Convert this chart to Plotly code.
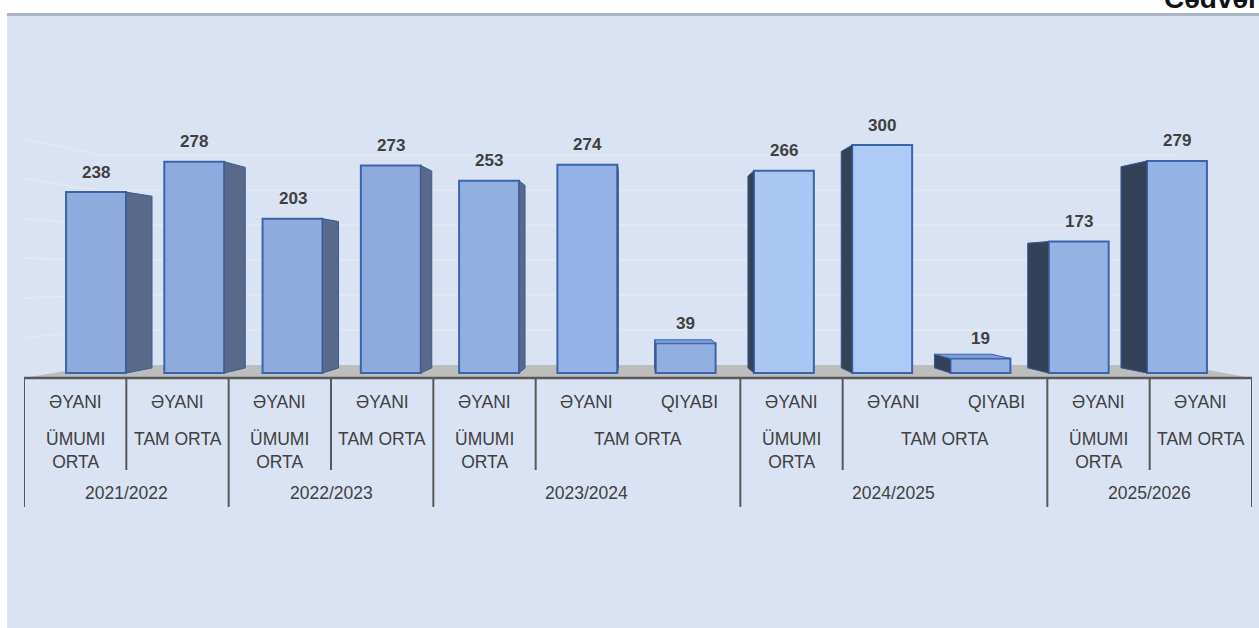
import plotly.graph_objects as go

# ---------------- data ----------------
values = [238, 278, 203, 273, 253, 274, 39, 266, 300, 19, 173, 279]
level1 = ["ƏYANI", "ƏYANI", "ƏYANI", "ƏYANI", "ƏYANI", "ƏYANI", "QIYABI",
          "ƏYANI", "ƏYANI", "QIYABI", "ƏYANI", "ƏYANI"]
level2 = ["ÜMUMI ORTA", "TAM ORTA", "ÜMUMI ORTA", "TAM ORTA", "ÜMUMI ORTA",
          "TAM ORTA", "TAM ORTA", "ÜMUMI ORTA", "TAM ORTA", "TAM ORTA",
          "ÜMUMI ORTA", "TAM ORTA"]
level3 = ["2021/2022", "2021/2022", "2022/2023", "2022/2023", "2023/2024",
          "2023/2024", "2023/2024", "2024/2025", "2024/2025", "2024/2025",
          "2025/2026", "2025/2026"]
title_text = "Cədvəl"

# ---------------- style ----------------
W, H = 1259, 628
ML, MR, MT, MB = 24, 7, 14, 0
PLOT_W = W - ML - MR
PLOT_H = H - MT - MB
PX_PER_UNIT = 0.76
BASE_PX = 373
BG = "#DAE3F3"
FONT = "Liberation Sans, Arial, sans-serif"
TXT = "#404040"
LBL_SIZE = 17.5
front_colors = ["#8FAADC", "#8FAADC", "#8FAADC", "#8FAADC", "#92AFE1", "#95B3E6",
                "#92AFE1", "#AAC7F3", "#AECBF7", "#93B0E2", "#95B2E4", "#95B2E4"]
EDGE = "#3C64AA"
SIDE_L = "#58698A"
SIDE_R = "#344259"
TOP_C = "#7E9ED6"
BAR_W = 0.61
PERSP_F = 0.051


def val(py):
    return (BASE_PX - py) / PX_PER_UNIT


def xpx(px):  # pixel -> label axis unit
    return (px - ML) / (PLOT_W / 12.0) - 0.5


def paper_x(px):
    return (px - ML) / PLOT_W


def paper_y(py):
    return (H - MB - py) / PLOT_H


n = len(values)
yr = [val(H - MB), val(MT)]
x2_unit = 98.27
x2_lo = -(96 - ML) / x2_unit
x2_hi = x2_lo + PLOT_W / x2_unit
XV = (n - 1) / 2.0
YV = val(273)

fig = go.Figure()

# side and top faces (perspective from vanishing point)
h = BAR_W / 2
for i, v in enumerate(values):
    c = i
    if c + h < XV:
        xe, col = c + h, SIDE_L
    elif c - h > XV:
        xe, col = c - h, SIDE_R
    else:
        xe = None
    if xe is not None:
        xb = xe + (XV - xe) * PERSP_F
        fig.add_trace(go.Scatter(
            x=[xe, xe, xb, xb, xe],
            y=[0, v, v + (YV - v) * PERSP_F, 0 + (YV - 0) * PERSP_F, 0],
            mode="lines", fill="toself", fillcolor=col,
            line=dict(color="#3A5A96", width=1),
            xaxis="x2", yaxis="y", hoverinfo="skip", showlegend=False))
    if v < YV:
        xl, xr = c - h, c + h
        vb = v + (YV - v) * PERSP_F
        fig.add_trace(go.Scatter(
            x=[xl, xr, xr + (XV - xr) * PERSP_F, xl + (XV - xl) * PERSP_F, xl],
            y=[v, v, vb, vb, v],
            mode="lines", fill="toself", fillcolor=TOP_C,
            line=dict(color=EDGE, width=1),
            xaxis="x2", yaxis="y", hoverinfo="skip", showlegend=False))

fig.add_trace(go.Bar(
    x=list(range(n)), y=values, width=BAR_W,
    marker=dict(color=front_colors, line=dict(color=EDGE, width=2)),
    xaxis="x2", yaxis="y", hoverinfo="skip", showlegend=False))

annotations = []
for i, v in enumerate(values):
    annotations.append(dict(
        x=i, y=v, xref="x2", yref="y", text=str(v), showarrow=False,
        yanchor="middle", yshift=20,
        font=dict(family=FONT, size=17, color=TXT, weight="bold")))

# category labels
for i, t in enumerate(level1):
    annotations.append(dict(x=i, y=val(402), xref="x", yref="y", text=t,
                            showarrow=False, yanchor="middle",
                            font=dict(family=FONT, size=LBL_SIZE, color=TXT)))


def runs(keys):
    out = []
    s = 0
    for i in range(1, len(keys) + 1):
        if i == len(keys) or keys[i] != keys[s]:
            out.append((s, i - 1, keys[s]))
            s = i
    return out


l2_runs = runs(list(zip(level3, level2)))
l3_runs = runs(level3)
for s, e, (yrs, t) in l2_runs:
    txt = t.replace(" ", "<br>") if (e == s and len(t) > 8) else t
    annotations.append(dict(x=(s + e) / 2, y=val(427), xref="x", yref="y", text=txt,
                            showarrow=False, yanchor="top",
                            font=dict(family=FONT, size=LBL_SIZE, color=TXT)))
for s, e, t in l3_runs:
    annotations.append(dict(x=(s + e) / 2, y=val(493), xref="x", yref="y", text=t,
                            showarrow=False, yanchor="middle",
                            font=dict(family=FONT, size=LBL_SIZE, color=TXT)))

annotations.append(dict(x=paper_x(1258), y=paper_y(16), xref="paper", yref="paper",
                        text=title_text, showarrow=False, xanchor="right",
                        yanchor="bottom",
                        font=dict(family=FONT, size=28, color="#111111", weight="bold")))

shapes = []
# background panel and top border
shapes.append(dict(type="rect", xref="paper", yref="paper",
                   x0=paper_x(7), x1=paper_x(W), y0=paper_y(H), y1=paper_y(14),
                   fillcolor=BG, line=dict(width=0), layer="below"))
shapes.append(dict(type="line", xref="paper", yref="paper",
                   x0=paper_x(7), x1=paper_x(W), y0=paper_y(14.5), y1=paper_y(14.5),
                   line=dict(color="#A9B3C7", width=3), layer="above"))

# back wall gridlines with left wall segments
xb_l, xb_r = xpx(100), xpx(1180)
for g in range(50, 301, 50):
    vb = g + (YV - g) * 0.08
    vf = YV + (vb - YV) * 1.14
    shapes.append(dict(type="line", xref="x", yref="y", x0=xb_l, x1=xb_r, y0=vb, y1=vb,
                       line=dict(color="#E5E8EF", width=1.6), layer="below"))
    shapes.append(dict(type="line", xref="x", yref="y", x0=-0.5, x1=xb_l, y0=vf, y1=vb,
                       line=dict(color="#E5E8EF", width=1.6), layer="below"))

# floor
shapes.append(dict(type="path", xref="x", yref="y", layer="below",
                   path=f"M {-0.5},{val(378)} L {xb_l},{val(365)} L {xb_r},{val(365)} "
                        f"L {11.5},{val(378)} Z",
                   fillcolor="#BDBDBD", line=dict(width=0)))
# axis line
shapes.append(dict(type="line", xref="x", yref="y", x0=-0.5, x1=n - 0.5,
                   y0=val(378), y1=val(378), line=dict(color="#595959", width=2.5),
                   layer="above"))
# separators
l3_bounds = {-0.5} | {e + 0.5 for s, e, t in l3_runs}
l2_bounds = {e + 0.5 for s, e, t in l2_runs} - l3_bounds
for b in l3_bounds:
    shapes.append(dict(type="line", xref="x", yref="y", x0=b, x1=b,
                       y0=val(378), y1=val(507), line=dict(color="#595959", width=2),
                       layer="above"))
for b in l2_bounds:
    shapes.append(dict(type="line", xref="x", yref="y", x0=b, x1=b,
                       y0=val(378), y1=val(470), line=dict(color="#595959", width=2),
                       layer="above"))

fig.update_layout(
    width=W, height=H,
    margin=dict(l=ML, r=MR, t=MT, b=MB, pad=0),
    paper_bgcolor="white", plot_bgcolor=BG,
    xaxis=dict(range=[-0.5, n - 0.5], visible=False, fixedrange=True),
    xaxis2=dict(range=[x2_lo, x2_hi], overlaying="x", anchor="y", visible=False,
                fixedrange=True),
    yaxis=dict(range=yr, visible=False, fixedrange=True),
    annotations=annotations, shapes=shapes, showlegend=False,
    bargap=0,
)
fig.write_html("out.html",
               config={"displayModeBar": False, "staticPlot": True},
               post_script="document.body.style.margin='0';"
                           "document.body.style.overflow='hidden';")
